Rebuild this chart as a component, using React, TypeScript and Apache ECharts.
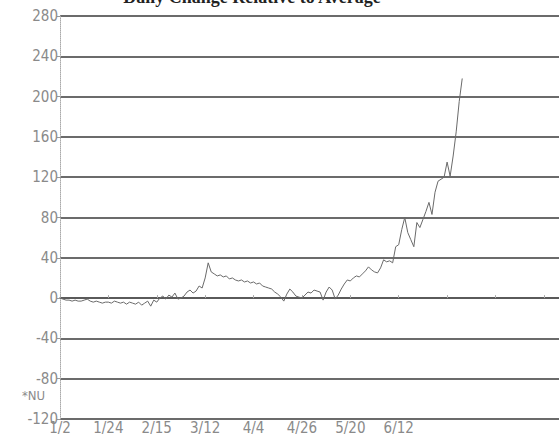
import React, { useEffect, useRef } from "react";
import * as echarts from "echarts";

// Trading-day index of each x tick label (one label every 16 sessions)
const tickLabels = ["1/2", "1/24", "2/15", "3/12", "4/4", "4/26", "5/20", "6/12"];
const tickStep = 16;
const dayCount = 165;

// Daily change values, one per trading session from 1/2
const changeEarly = [
  0, -1, -2, -2, -3, -2, -3, -3, -2, -1, -3, -4, -3, -4, -5, -4, -4, -5, -3, -4,
  -5, -4, -6, -4, -5, -6, -4, -7, -5, -3, -8, -2, -4, 0, 2, -1, 3, 1, 5, -1,
  0, 2, 6, 8, 5, 7, 12, 10, 20, 35,
];
const changeMid = [
  26, 24, 22, 23, 21, 22, 19, 20, 18, 17, 18, 16, 17, 15, 16, 14, 15, 12, 11, 10,
  9, 6, 4, 1, -3, 4, 9, 6, 2, 1, 0, 3, 6, 5, 8, 7, 6, -2, 6, 11,
  8, -1, 3, 9, 14, 18, 17, 20, 22,
];
const changeLate = [
  21, 24, 27, 31, 28, 26, 25, 30, 38, 36, 37, 35, 51, 53, 68, 80, 65, 58, 51, 75,
  70, 78, 86, 95, 83, 105, 116, 118, 120, 135, 121, 141, 165, 195, 218,
];
const changeValues = [...changeEarly, ...changeMid, ...changeLate];

const yMin = -120;
const yMax = 280;
const yStep = 40;

const labelFont = "'Liberation Sans Narrow', 'DejaVu Sans Condensed', sans-serif";

export default function App() {
  const ref = useRef<HTMLDivElement>(null);

  useEffect(() => {
    if (!ref.current) return;
    const chart = echarts.init(ref.current, undefined, { renderer: "svg" });
    chart.setOption({
      animation: false,
      backgroundColor: "#ffffff",
      grid: { left: 60, right: 0, top: 16, bottom: 20 },
      xAxis: {
        type: "value",
        min: 0,
        max: dayCount,
        interval: tickStep,
        splitLine: { show: false },
        axisLine: { show: true, lineStyle: { color: "#555", width: 1.5 } },
        axisTick: { show: true, inside: true, length: 3, lineStyle: { color: "#aaa" } },
        axisLabel: {
          color: "#8a8a8a",
          fontFamily: labelFont,
          fontSize: 15,
          margin: 1,
          showMaxLabel: false,
          formatter: (v: number) => tickLabels[Math.round(v / tickStep)] ?? "",
        },
      },
      yAxis: {
        type: "value",
        min: yMin,
        max: yMax,
        interval: yStep,
        axisLine: { show: true, lineStyle: { color: "#aaa", width: 1, type: "dotted" } },
        axisTick: { show: true, length: 3, lineStyle: { color: "#999" } },
        splitLine: { show: true, lineStyle: { color: "#3a3a3a", width: 1.5 } },
        axisLabel: {
          color: "#8a8a8a",
          fontFamily: labelFont,
          fontSize: 15,
          margin: 2,
        },
      },
      graphic: [
        {
          type: "text",
          x: 252,
          y: -12,
          style: {
            text: "Daily Change Relative to Average",
            fill: "#222",
            font: "bold 18px 'Liberation Serif', serif",
            align: "center",
            verticalAlign: "top",
          },
        },
        {
          type: "text",
          x: 22,
          y: 389,
          style: {
            text: "*NU",
            fill: "#8a8a8a",
            font: `13px ${labelFont}`,
          },
        },
      ],
      series: [
        {
          type: "line",
          data: changeValues.map((v, i) => [i, v]),
          showSymbol: false,
          lineStyle: { color: "#6a6a6a", width: 1 },
          z: 5,
        },
      ],
    });
    return () => chart.dispose();
  }, []);

  return (
    <div
      ref={ref}
      style={{ position: "fixed", left: 0, top: 0, width: 559, height: 439 }}
    />
  );
}
